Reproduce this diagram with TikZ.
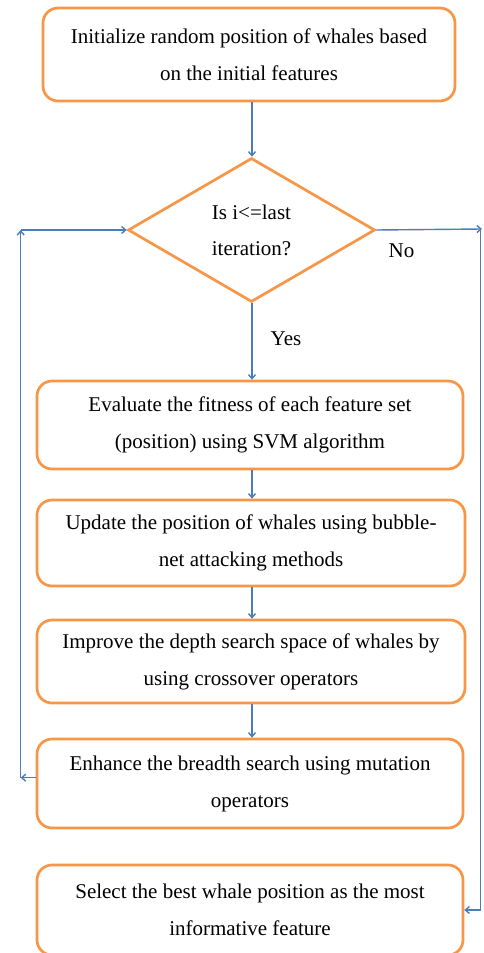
\documentclass[tikz,border=0pt]{standalone}
\usepackage{fontspec}
\setmainfont{Liberation Serif}
\usetikzlibrary{arrows.meta,shapes.geometric}
\definecolor{boxorange}{HTML}{F79646}
\definecolor{lineblue}{HTML}{4A7EBB}
\tikzset{
  box/.style={draw=boxorange, line width=2.7pt, rounded corners=15pt, fill=white,
    inner sep=0pt, align=center, font=\fontsize{21}{37}\selectfont},
  decision/.style={diamond, draw=boxorange, line width=2.7pt, fill=white,
    inner sep=0pt, align=center, font=\fontsize{21}{36}\selectfont},
  arr/.style={draw=lineblue, line width=1.4pt, -{Straight Barb[length=4pt,width=7pt]}},
  lbl/.style={font=\fontsize{21}{25}\selectfont, anchor=base, inner sep=0pt}
}
\begin{document}
\begin{tikzpicture}[x=1pt,y=-1pt]
\useasboundingbox (0,0) rectangle (484,953);
\node[box, minimum width=412pt, minimum height=93pt] (init) at (249,54.5)
  {Initialize random position of whales based\\on the initial features};
\node[decision, minimum width=247pt, minimum height=144pt] (dia) at (251.5,230)
  {Is i<=last\\iteration?};
\node[box, minimum width=426pt, minimum height=88pt] (eval) at (250,425)
  {Evaluate the fitness of each feature set\\(position) using SVM algorithm};
\node[box, minimum width=428pt, minimum height=86pt] (upd) at (251,543)
  {Update the position of whales using bubble-\\net attacking methods};
\node[box, minimum width=428pt, minimum height=83pt] (imp) at (251,661.5)
  {Improve the depth search space of whales by\\using crossover operators};
\node[box, minimum width=426pt, minimum height=89pt] (enh) at (250,783.5)
  {Enhance the breadth search using mutation\\operators};
\node[box, minimum width=426pt, minimum height=90pt] (sel) at (250,910)
  {Select the best whale position as the most\\informative feature};
\node[lbl] (yes) at (286,345) {Yes};
\node[lbl] (no) at (401.5,257) {No};
\coordinate (L1) at (20.7,777.7);
\coordinate (L2) at (20.7,230);
\coordinate (R1) at (482,229);
\coordinate (R2) at (480.7,910);
\coordinate (cx) at (252,0);
\draw[arr] (cx |- init.south) -- (cx |- dia.north);
\draw[arr] (cx |- dia.south) -- (cx |- eval.north);
\draw[arr] (cx |- eval.south) -- (cx |- upd.north);
\draw[arr] (cx |- upd.south) -- (cx |- imp.north);
\draw[arr] (cx |- imp.south) -- (cx |- enh.north);
\draw[arr] (L1 -| enh.west) -- (L1);
\draw[arr] (L1) -- (L2);
\draw[arr] (L2) -- (dia.west);
\draw[arr] (dia.east) -- (R1);
\draw[arr] (R1 -| R2) -- (R2) -- (sel.east);
\end{tikzpicture}
\end{document}
